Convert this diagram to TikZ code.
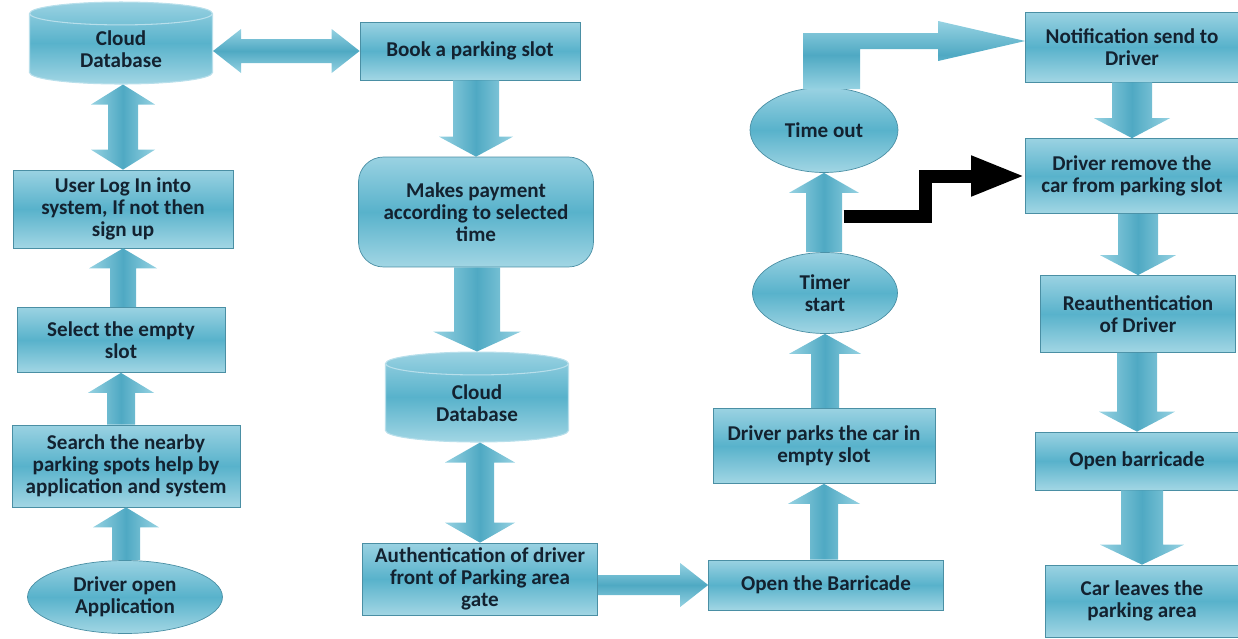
\documentclass[tikz,border=0pt]{standalone}
\usepackage{fontspec}
\setmainfont{Carlito}
\usetikzlibrary{shapes.geometric,arrows.meta,calc}

\definecolor{boxtop}{HTML}{9AD2E2}
\definecolor{boxmid}{HTML}{58B2CB}
\definecolor{boxbot}{HTML}{A2D6E4}
\definecolor{boxline}{HTML}{4A8FA4}
\definecolor{boxtext}{HTML}{132230}
\definecolor{arrlight}{HTML}{96D2E2}
\definecolor{arrdark}{HTML}{4FA9C3}

\newcommand\boxfont{\fontsize{12}{12.5}\selectfont\bfseries}

\newcommand\vblock[4]{%
  \coordinate (hb) at ($(#4)!0.4cm!(#4|-#3)$);
  \path[vblk] ($(#4|-#3)+(-#1,0)$) -- ($(hb)+(-#1,0)$) -- ($(hb)+(-#2,0)$)
    -- (#4) -- ($(hb)+(#2,0)$) -- ($(hb)+(#1,0)$) -- ($(#4|-#3)+(#1,0)$) -- cycle;
}
\newcommand\vdblock[4]{%
  \coordinate (ha) at ($(#4|-#3)!0.4cm!(#4)$);
  \coordinate (hb) at ($(#4)!0.4cm!(#4|-#3)$);
  \path[vblk] (#4|-#3) -- ($(ha)+(#2,0)$) -- ($(ha)+(#1,0)$) -- ($(hb)+(#1,0)$)
    -- ($(hb)+(#2,0)$) -- (#4) -- ($(hb)+(-#2,0)$) -- ($(hb)+(-#1,0)$)
    -- ($(ha)+(-#1,0)$) -- ($(ha)+(-#2,0)$) -- cycle;
}
\newcommand\hblock[4]{%
  \coordinate (hb) at ($(#4)!0.56cm!(#3|-#4)$);
  \path[hblk] ($(#3|-#4)+(0,-#1)$) -- ($(hb)+(0,-#1)$) -- ($(hb)+(0,-#2)$)
    -- (#4) -- ($(hb)+(0,#2)$) -- ($(hb)+(0,#1)$) -- ($(#3|-#4)+(0,#1)$) -- cycle;
}
\newcommand\hdblock[4]{%
  \coordinate (ha) at ($(#3|-#4)!0.56cm!(#4)$);
  \coordinate (hb) at ($(#4)!0.56cm!(#3|-#4)$);
  \path[hblk] (#3|-#4) -- ($(ha)+(0,-#2)$) -- ($(ha)+(0,-#1)$) -- ($(hb)+(0,-#1)$)
    -- ($(hb)+(0,-#2)$) -- (#4) -- ($(hb)+(0,#2)$) -- ($(hb)+(0,#1)$)
    -- ($(ha)+(0,#1)$) -- ($(ha)+(0,#2)$) -- cycle;
}

\tikzset{
  shaded/.style={top color=boxtop, bottom color=boxbot, middle color=boxmid},
  stepbox/.style={rectangle, shaded, draw=boxline, line width=0.4pt,
    align=center, font=\boxfont, text=boxtext, inner sep=2pt},
  roundbox/.style={stepbox, rounded corners=0.5cm},
  oval/.style={ellipse, shaded, draw=boxline, line width=0.4pt,
    align=center, font=\boxfont, text=boxtext, inner sep=0pt},
  dbase/.style={cylinder, shape border rotate=90, aspect=0.28, shaded,
    draw=boxtop!70!white, line width=0.6pt, align=center, font=\boxfont,
    text=boxtext, inner sep=0pt},
  vblk/.style={left color=arrlight, right color=arrlight, middle color=arrdark},
  hblk/.style={top color=arrlight, bottom color=arrlight, middle color=arrdark},
  blackarrow/.style={line width=0.26cm, -{Triangle[length=1.08cm,width=0.74cm]}}
}

\begin{document}
\begin{tikzpicture}[x=0.02cm, y=-0.02cm]
  \useasboundingbox (0,0) rectangle (1238,639);

  \node[dbase, minimum width=3.66cm, minimum height=1.64cm] (cloudA) at (121,49) {Cloud\\Database};
  \node[stepbox, minimum width=4.4cm, minimum height=1.56cm] (login) at (123,209) {User Log In into\\system, If not then\\sign up};
  \node[stepbox, minimum width=4.16cm, minimum height=1.3cm] (select) at (121,340) {Select the empty\\slot};
  \node[stepbox, minimum width=4.56cm, minimum height=1.64cm] (search) at (126,466) {Search the nearby\\parking spots help by\\application and system};
  \node[oval, minimum width=3.9cm, minimum height=1.46cm] (open) at (125,597) {Driver open\\Application};

  \node[stepbox, minimum width=4.4cm, minimum height=1.16cm] (book) at (470,51) {Book a parking slot};
  \node[roundbox, minimum width=4.7cm, minimum height=2.2cm] (pay) at (476,212) {Makes payment\\according to selected\\time};
  \node[dbase, minimum width=3.66cm, minimum height=1.8cm] (cloudB) at (477,403) {Cloud\\Database};
  \node[stepbox, minimum width=4.7cm, minimum height=1.44cm] (auth) at (480,579) {Authentication of driver\\front of Parking area\\gate};

  \node[stepbox, minimum width=4.7cm, minimum height=1cm] (barrier) at (826,585) {Open the Barricade};
  \node[stepbox, minimum width=4.44cm, minimum height=1.5cm] (parks) at (824,446) {Driver parks the car in\\empty slot};
  \node[oval, minimum width=2.9cm, minimum height=1.62cm] (timer) at (825,293) {Timer\\start};
  \node[oval, minimum width=2.96cm, minimum height=1.7cm] (timeout) at (824,130) {Time out};

  \node[stepbox, minimum width=4.26cm, minimum height=1.4cm] (notify) at (1132,47) {Notification send to\\Driver};
  \node[stepbox, minimum width=4.26cm, minimum height=1.5cm] (remove) at (1132,176) {Driver remove the\\car from parking slot};
  \node[stepbox, minimum width=3.9cm, minimum height=1.54cm] (reauth) at (1138,314) {Reauthentication\\of Driver};
  \node[stepbox, minimum width=4.06cm, minimum height=1.16cm] (gate) at (1137,461) {Open barricade};
  \node[stepbox, minimum width=3.86cm, minimum height=1.44cm] (leaves) at (1142,601) {Car leaves the\\parking area};

  \vblock{14}{33}{open.north}{search.south}
  \vblock{14}{33}{search.north}{select.south}
  \vblock{13}{34}{select.north}{login.south}
  \vdblock{15}{32}{cloudA.south}{login.north}
  \hdblock{12}{22}{cloudA.east}{book.west}

  \vblock{23}{37}{book.south}{pay.north}
  \vblock{23}{44}{pay.south}{cloudB.north}
  \vdblock{14}{35}{cloudB.south}{auth.north}
  \hblock{10}{22}{auth.east}{barrier.west}

  \vblock{14}{36}{barrier.north}{parks.south}
  \vblock{14}{36}{parks.north}{timer.south}
  \vblock{18}{35}{timer.north}{timeout.south}

  \coordinate (ntip) at ($(notify.west)+(0,-6)$);
  \path[hblk] ($(timeout.north)+(-21,2)$) |- ($(ntip)+(-87,-8)$) -- ++(0,-12)
    -- (ntip) -- ++(-87,20) -- ++(0,-12) -| ($(timeout.north)+(36,2)$) -- cycle;

  \coordinate (tap) at ($(timer.north)!0.5!(timeout.south)+(19,4)$);
  \draw[blackarrow] (tap) -- ++(82,0) |- (remove.west);

  \vblock{20}{38}{notify.south}{remove.north}
  \vblock{20}{38}{remove.south}{reauth.north}
  \vblock{20}{38}{reauth.south}{gate.north}
  \vblock{21}{42}{gate.south}{leaves.north}
\end{tikzpicture}
\end{document}
